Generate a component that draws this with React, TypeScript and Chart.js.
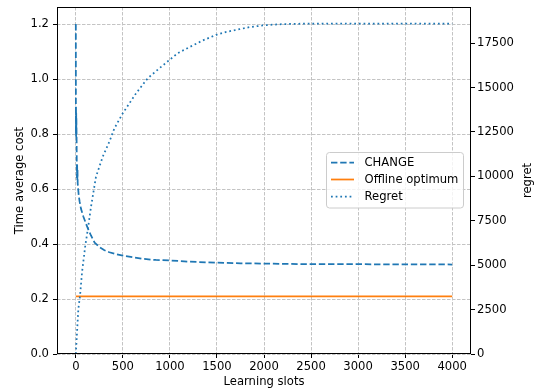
import React, { useEffect, useRef } from 'react';
import { Chart, registerables } from 'chart.js';

Chart.register(...registerables);

// ---- data ----
const changeSlots = [0, 1, 2, 3, 4, 5, 6, 8, 10, 12, 14, 16, 18, 20, 25, 30, 40, 55, 80, 108, 130, 161, 200, 250, 300, 356, 420, 500, 600, 711, 850, 1000, 1200, 1500, 1750, 2000, 2500, 3000, 3500, 4000];
const changeCost = [1.2, 0.8, 0.9, 0.79, 0.88, 0.82, 0.86, 0.8, 0.7, 0.64, 0.69, 0.63, 0.67, 0.62, 0.6, 0.58, 0.555, 0.528, 0.5, 0.474, 0.455, 0.431, 0.405, 0.389, 0.378, 0.37, 0.364, 0.358, 0.352, 0.346, 0.342, 0.34, 0.336, 0.332, 0.33, 0.329, 0.3266, 0.3265, 0.326, 0.3255];

const offlineSlots = [0, 4000];
const offlineCost = [0.21, 0.21];

const regretSlots = [0, 10, 27, 45, 66, 101, 130, 161, 214, 285, 356, 410, 498, 640, 764, 888, 995, 1083, 1207, 1350, 1491, 1600, 1739, 1850, 1987, 2100, 2236, 2400, 2600, 3000, 3500, 4000];
const regretValues = [0, 950, 2540, 3290, 4605, 6110, 7100, 8270, 9970, 11090, 11940, 12700, 13540, 14670, 15520, 16080, 16550, 16930, 17270, 17650, 17960, 18130, 18280, 18400, 18490, 18540, 18570, 18590, 18595, 18595, 18595, 18595];

const xTicks = [0, 500, 1000, 1500, 2000, 2500, 3000, 3500, 4000];
const yTicks = [0, 0.2, 0.4, 0.6, 0.8, 1.0, 1.2];
const y2Ticks = [0, 2500, 5000, 7500, 10000, 12500, 15000, 17500];

const seriesNames = ['CHANGE', 'Offline optimum', 'Regret'];
const axisTitles = { x: 'Learning slots', y: 'Time average cost', y2: 'regret' };

const BLUE = '#1f77b4';
const ORANGE = '#ff7f0e';
const FS = 11.6;
const FONT = `${FS}px "DejaVu Sans"`;
const W = 536;
const H = 391;

const toPts = (xs: number[], ys: number[]) => xs.map((x, i) => ({ x, y: ys[i] }));

const decor = {
  id: 'decor',
  afterDatasetsDraw(chart: any) {
    const { ctx, chartArea: a } = chart;
    ctx.save();
    ctx.strokeStyle = '#000';
    ctx.lineWidth = 1;
    ctx.strokeRect(Math.round(a.left) + 0.5, Math.round(a.top) + 0.5, Math.round(a.right - a.left) - 1, Math.round(a.bottom - a.top) - 1);
    ctx.restore();
  },
  afterDraw(chart: any) {
    const { ctx, chartArea: a } = chart;
    ctx.save();
    ctx.font = FONT;
    ctx.fillStyle = '#000';
    ctx.textAlign = 'center';
    ctx.textBaseline = 'middle';
    // x title
    ctx.fillText(axisTitles.x, (a.left + a.right) / 2, 382);
    // left title
    ctx.save();
    ctx.translate(20, (a.top + a.bottom) / 2);
    ctx.rotate(-Math.PI / 2);
    ctx.fillText(axisTitles.y, 0, 0);
    ctx.restore();
    // right title
    ctx.save();
    ctx.translate(528, (a.top + a.bottom) / 2);
    ctx.rotate(-Math.PI / 2);
    ctx.fillText(axisTitles.y2, 0, 0);
    ctx.restore();

    // legend
    const bx = 326.5, by = 152.5, bw = 137, bh = 55.5;
    ctx.beginPath();
    (ctx as any).roundRect(bx, by, bw, bh, 3);
    ctx.fillStyle = 'rgba(255,255,255,0.8)';
    ctx.fill();
    ctx.strokeStyle = '#cccccc';
    ctx.lineWidth = 1;
    ctx.stroke();

    const rows = [162.7, 179.5, 196.7];
    const styles = [
      { color: BLUE, dash: [6.4, 2.8] },
      { color: ORANGE, dash: [] as number[] },
      { color: BLUE, dash: [1.75, 2.9] },
    ];
    rows.forEach((ry, i) => {
      ctx.beginPath();
      ctx.setLineDash(styles[i].dash);
      ctx.strokeStyle = styles[i].color;
      ctx.lineWidth = 1.75;
      ctx.lineCap = 'butt';
      ctx.moveTo(331, ry);
      ctx.lineTo(354, ry);
      ctx.stroke();
      ctx.setLineDash([]);
      ctx.fillStyle = '#000';
      ctx.textAlign = 'left';
      ctx.textBaseline = 'middle';
      ctx.fillText(seriesNames[i], 364.5, ry);
    });
    ctx.restore();
  },
};

const noPad = (s: any) => {
  s.paddingTop = 0;
  s.paddingBottom = 0;
  s.paddingLeft = 0;
  s.paddingRight = 0;
};

export default function App() {
  const ref = useRef<HTMLCanvasElement>(null);

  useEffect(() => {
    if (!ref.current) return;
    const gridCommon = {
      color: '#c4c4c4',
      lineWidth: 1,
      tickColor: '#000',
      tickWidth: 1,
      tickLength: 4,
      tickBorderDash: [],
    };
    const chart = new Chart(ref.current, {
      type: 'line',
      data: {
        datasets: [
          {
            label: seriesNames[0],
            data: toPts(changeSlots, changeCost),
            borderColor: BLUE,
            borderWidth: 1.75,
            borderDash: [6.4, 2.8],
            pointRadius: 0,
            tension: 0,
            yAxisID: 'y',
            order: 1,
          },
          {
            label: seriesNames[1],
            data: toPts(offlineSlots, offlineCost),
            borderColor: ORANGE,
            borderWidth: 1.75,
            pointRadius: 0,
            tension: 0,
            yAxisID: 'y',
            order: 2,
          },
          {
            label: seriesNames[2],
            data: toPts(regretSlots, regretValues),
            borderColor: BLUE,
            borderWidth: 1.75,
            borderDash: [1.75, 2.9],
            pointRadius: 0,
            tension: 0,
            yAxisID: 'y2',
            order: 0,
          },
        ],
      },
      options: {
        responsive: false,
        animation: false,
        events: [],
        layout: { padding: { top: 7, left: 0, right: 0, bottom: 0 } },
        plugins: { legend: { display: false }, tooltip: { enabled: false } },
        scales: {
          x: {
            type: 'linear',
            position: 'bottom',
            min: -200,
            max: 4200,
            afterBuildTicks: (s: any) => { s.ticks = xTicks.map((v) => ({ value: v })); },
            afterFit: (s: any) => { s.height = H - 354; noPad(s); },
            ticks: { font: { family: 'DejaVu Sans', size: FS }, color: '#000', padding: 2, maxRotation: 0, autoSkip: false, callback: (v: any) => String(v) },
            grid: { ...gridCommon },
            border: { display: false, dash: [3.5, 1.5] },
          },
          y: {
            type: 'linear',
            position: 'left',
            min: 0,
            max: 1.262,
            afterBuildTicks: (s: any) => { s.ticks = yTicks.map((v) => ({ value: v })); },
            afterFit: (s: any) => { s.width = 57; noPad(s); },
            ticks: { font: { family: 'DejaVu Sans', size: FS }, color: '#000', padding: 4, autoSkip: false, callback: (v: any) => Number(v).toFixed(1) },
            grid: { ...gridCommon },
            border: { display: false, dash: [3.5, 1.5] },
          },
          y2: {
            type: 'linear',
            position: 'right',
            min: 0,
            max: 19530,
            afterBuildTicks: (s: any) => { s.ticks = y2Ticks.map((v) => ({ value: v })); },
            afterFit: (s: any) => { s.width = W - 471; noPad(s); },
            ticks: { font: { family: 'DejaVu Sans', size: FS }, color: '#000', padding: 2, autoSkip: false, callback: (v: any) => String(v) },
            grid: { ...gridCommon, drawOnChartArea: false },
            border: { display: false },
          },
        },
      },
      plugins: [decor],
    } as any);
    return () => chart.destroy();
  }, []);

  return (
    <div style={{ position: 'fixed', left: 0, top: 0, width: W, height: H, background: '#fff' }}>
      <canvas ref={ref} width={W} height={H} style={{ display: 'block' }} />
    </div>
  );
}
